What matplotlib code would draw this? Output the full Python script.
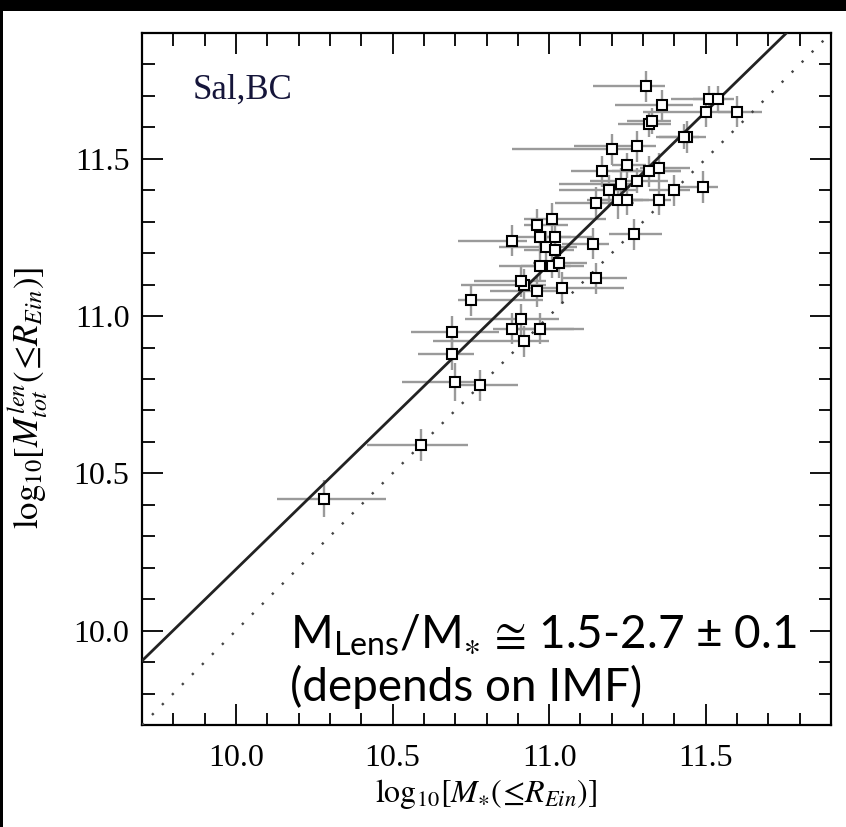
import matplotlib
matplotlib.use("Agg")
import matplotlib.pyplot as plt
from matplotlib.patches import Rectangle
from matplotlib.ticker import MultipleLocator, FormatStrFormatter
import numpy as np

# log10 M* (<= R_Ein) and log10 M_tot^len (<= R_Ein)
m_star = [11.31, 11.36, 11.32, 11.33, 11.20, 11.28, 11.17, 11.25, 11.32, 11.35,
          11.23, 11.28, 11.19, 11.40, 11.15, 11.22, 11.25, 11.35, 11.01, 10.96,
          10.88, 10.97, 11.02, 10.99, 11.02, 11.14, 11.27, 10.97, 11.01, 11.03,
          10.92, 10.91, 10.96, 11.04, 11.15, 10.75, 10.91, 10.88, 10.97, 10.92,
          10.69, 10.69, 10.70, 10.78, 10.59, 10.28, 11.51, 11.54, 11.50, 11.60,
          11.44, 11.43, 11.49]
m_lens = [11.73, 11.67, 11.61, 11.62, 11.53, 11.54, 11.46, 11.48, 11.46, 11.47,
          11.42, 11.43, 11.40, 11.40, 11.36, 11.37, 11.37, 11.37, 11.31, 11.29,
          11.24, 11.25, 11.25, 11.22, 11.21, 11.23, 11.26, 11.16, 11.16, 11.17,
          11.10, 11.11, 11.08, 11.09, 11.12, 11.05, 10.99, 10.96, 10.96, 10.92,
          10.95, 10.88, 10.79, 10.78, 10.59, 10.42, 11.69, 11.69, 11.65, 11.65,
          11.57, 11.57, 11.41]
xerr_lo = [0.17, 0.15, 0.10, 0.08, 0.32, 0.20, 0.10, 0.05, 0.12, 0.06,
           0.20, 0.15, 0.16, 0.08, 0.13, 0.10, 0.08, 0.10, 0.09, 0.04,
           0.17, 0.10, 0.05, 0.15, 0.10, 0.10, 0.08, 0.13, 0.10, 0.08,
           0.20, 0.15, 0.15, 0.10, 0.11, 0.04, 0.18, 0.06, 0.10, 0.29,
           0.13, 0.11, 0.17, 0.10, 0.17, 0.15, 0.12, 0.08, 0.20, 0.06,
           0.10, 0.08, 0.10]
xerr_hi = [0.06, 0.10, 0.07, 0.06, 0.10, 0.06, 0.25, 0.06, 0.10, 0.10,
           0.06, 0.10, 0.09, 0.05, 0.12, 0.08, 0.07, 0.04, 0.17, 0.10,
           0.05, 0.10, 0.12, 0.10, 0.06, 0.05, 0.09, 0.10, 0.10, 0.09,
           0.07, 0.08, 0.10, 0.20, 0.10, 0.23, 0.12, 0.20, 0.14, 0.08,
           0.15, 0.07, 0.10, 0.12, 0.15, 0.20, 0.05, 0.05, 0.10, 0.08,
           0.06, 0.05, 0.05]
yerr = [0.05, 0.05, 0.04, 0.04, 0.05, 0.05, 0.05, 0.04, 0.05, 0.05,
        0.05, 0.04, 0.05, 0.05, 0.05, 0.06, 0.05, 0.05, 0.05, 0.05,
        0.05, 0.04, 0.05, 0.05, 0.05, 0.05, 0.05, 0.05, 0.04, 0.05,
        0.05, 0.05, 0.05, 0.05, 0.05, 0.05, 0.05, 0.05, 0.05, 0.05,
        0.05, 0.05, 0.06, 0.05, 0.05, 0.06, 0.04, 0.04, 0.05, 0.05,
        0.05, 0.04, 0.05]

fit_slope = 0.97
fit_intercept = 0.495
lims = [9.7, 11.9]

plt.rcParams['mathtext.fontset'] = 'custom'
plt.rcParams['mathtext.rm'] = 'Lato'
plt.rcParams['mathtext.it'] = 'Lato:italic'
plt.rcParams['mathtext.fallback'] = 'stixsans'

fig = plt.figure(figsize=(8.46, 8.27), dpi=100, facecolor='black')
fig.patches.append(Rectangle((3/846, 0), 1, 1 - 11/827, transform=fig.transFigure,
                             facecolor='white', edgecolor='none', zorder=-1))
ax = fig.add_axes([142/846, 1 - 725/827, 689/846, 692/827])

xx = np.array(lims)
ax.plot(xx, xx, color='#444444', lw=1.7, ls=(0, (1, 5)), zorder=3)
ax.plot(xx, fit_slope*xx + fit_intercept, color='#222222', lw=2.0, zorder=3)

ax.errorbar(m_star, m_lens, xerr=[xerr_lo, xerr_hi], yerr=yerr, fmt='none',
            ecolor='#9a9a9a', elinewidth=1.7, capsize=0, zorder=2)
ax.plot(m_star, m_lens, 's', mfc='white', mec='black', ms=6.5, mew=1.5, zorder=4)

ax.set_xlim(lims)
ax.set_ylim(lims)
ax.xaxis.set_major_locator(MultipleLocator(0.5))
ax.yaxis.set_major_locator(MultipleLocator(0.5))
ax.xaxis.set_minor_locator(MultipleLocator(0.1))
ax.yaxis.set_minor_locator(MultipleLocator(0.1))
ax.xaxis.set_major_formatter(FormatStrFormatter('%.1f'))
ax.yaxis.set_major_formatter(FormatStrFormatter('%.1f'))
ax.tick_params(which='both', direction='in', top=True, right=True, width=1.3,
               colors='black')
ax.tick_params(which='major', length=15, labelsize=23)
ax.tick_params(which='minor', length=9)
ax.tick_params(axis='x', which='major', pad=14)
ax.tick_params(axis='y', which='major', pad=9)
for lab in ax.get_xticklabels() + ax.get_yticklabels():
    lab.set_fontfamily('Liberation Serif')
for s in ax.spines.values():
    s.set_linewidth(1.6)

ax.set_xlabel(r'$\mathrm{log}_{10}[M_{\ast}(\!\leq\!R_{Ein})]$', fontsize=23,
              math_fontfamily='stix')
ax.set_ylabel(r'$\mathrm{log}_{10}[M^{len}_{tot}(\!\leq\!R_{Ein})]$', fontsize=25,
              math_fontfamily='stix')
ax.xaxis.set_label_coords(0.5, -0.075)
ax.yaxis.set_label_coords(-0.134, 0.4725)

ax.text(0.073, 0.905, 'Sal,BC', transform=ax.transAxes, fontsize=25,
        family='Liberation Serif', color='#15153a')

ax.text(0.215, 0.11, r'M$_{\mathrm{Lens}}$/M$_{\ast}$ $\!\cong\!$ 1.5-2.7 ± 0.1',
        transform=ax.transAxes, fontsize=33, family=['Lato', 'DejaVu Sans'],
        va='baseline')
ax.text(0.215, 0.035, '(depends on IMF)', transform=ax.transAxes, fontsize=33,
        family=['Lato', 'DejaVu Sans'], va='baseline')

plt.savefig('out.png', dpi=100, facecolor=fig.get_facecolor())
